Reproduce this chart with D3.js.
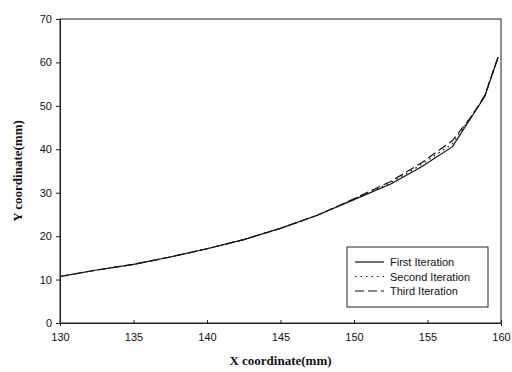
<!DOCTYPE html>
<html>
<head>
<meta charset="utf-8">
<script src="https://cdn.jsdelivr.net/npm/d3@7"></script>
<style>
  body { margin: 0; background: #fff; }
  svg { display: block; }
  .tick text { font-family: "Liberation Sans", Arial, sans-serif; font-size: 11px; fill: #111; }
  .title { font-family: "Liberation Serif", "Times New Roman", serif; font-weight: bold; font-size: 13px; fill: #111; }
  .leg { font-family: "Liberation Sans", Arial, sans-serif; font-size: 11px; fill: #111; }
</style>
</head>
<body>
<svg id="chart"></svg>
<script>
const width = 512, height = 372;
const margin = {top: 19, right: 11, bottom: 49, left: 60};

const xFirst = [130, 132.5, 135, 137.5, 140, 142.5, 145, 147.5, 150, 152.5, 154.6, 156.7, 158.9, 159.8];
const yFirst = [10.7, 12.2, 13.5, 15.2, 17.1, 19.2, 21.8, 24.8, 28.4, 32.0, 36.0, 40.6, 52.2, 61.2];
const xSecond = [130, 132.5, 135, 137.5, 140, 142.5, 145, 147.5, 150, 152.5, 154.6, 156.7, 158.9, 159.8];
const ySecond = [10.7, 12.2, 13.5, 15.2, 17.1, 19.2, 21.8, 24.8, 28.5, 32.3, 36.5, 41.3, 52.2, 61.2];
const xThird = [130, 132.5, 135, 137.5, 140, 142.5, 145, 147.5, 150, 152.5, 154.6, 156.7, 158.0, 158.9, 159.8];
const yThird = [10.7, 12.2, 13.5, 15.2, 17.1, 19.2, 21.8, 24.8, 28.6, 32.6, 36.9, 42.0, 47.6, 52.4, 61.2];
const xTicks = [130, 135, 140, 145, 150, 155, 160];
const yTicks = [0, 10, 20, 30, 40, 50, 60, 70];
const seriesNames = ["First Iteration", "Second Iteration", "Third Iteration"];

const dashes = [null, "1.5,4", "9,4"];
const series = [
  {name: seriesNames[0], pts: d3.zip(xFirst, yFirst)},
  {name: seriesNames[1], pts: d3.zip(xSecond, ySecond)},
  {name: seriesNames[2], pts: d3.zip(xThird, yThird)}
];

const svg = d3.select("#chart").attr("width", width).attr("height", height);

const x = d3.scaleLinear().domain([130, 160]).range([margin.left, width - margin.right]);
const y = d3.scaleLinear().domain([0, 70]).range([height - margin.bottom, margin.top]);

// frame
svg.append("rect")
  .attr("x", x(130)).attr("y", y(70))
  .attr("width", x(160) - x(130)).attr("height", y(0) - y(70))
  .attr("fill", "none").attr("stroke", "#222").attr("stroke-width", 1);

svg.append("g")
  .attr("transform", `translate(0,${y(0)})`)
  .call(d3.axisBottom(x).tickValues(xTicks).tickSize(3).tickPadding(7).tickFormat(d3.format("d")))
  .call(g => g.select(".domain").attr("stroke", "#222"))
  .call(g => g.selectAll(".tick line").attr("stroke", "#222").attr("y2", -3));

svg.append("g")
  .attr("transform", `translate(${x(130)},0)`)
  .call(d3.axisLeft(y).tickValues(yTicks).tickSize(4).tickPadding(4))
  .call(g => g.select(".domain").attr("stroke", "#222"))
  .call(g => g.selectAll(".tick line").attr("stroke", "#222"));

svg.selectAll(".tick text").attr("font-family", null).attr("font-size", null);

const line = d3.line().x(d => x(d[0])).y(d => y(d[1]));

svg.selectAll(".series")
  .data(series)
  .enter().append("path")
  .attr("class", "series")
  .attr("d", d => line(d.pts))
  .attr("fill", "none")
  .attr("stroke", "#111")
  .attr("stroke-width", 1.2)
  .attr("stroke-dasharray", (d, i) => dashes[i]);

// axis titles
svg.append("text").attr("class", "title")
  .attr("x", (x(130) + x(160)) / 2).attr("y", 365)
  .attr("text-anchor", "middle")
  .text("X coordinate(mm)");

svg.append("text").attr("class", "title")
  .attr("transform", `translate(22,${(y(0) + y(70)) / 2}) rotate(-90)`)
  .attr("text-anchor", "middle")
  .text("Y coordinate(mm)");

// legend
const lg = svg.append("g").attr("transform", "translate(347,247)");
lg.append("rect").attr("width", 141).attr("height", 60)
  .attr("fill", "#fff").attr("stroke", "#222");

const item = lg.selectAll(".item")
  .data(seriesNames)
  .enter().append("g")
  .attr("transform", (d, i) => `translate(0,${15 + i * 14.5})`);

item.append("line")
  .attr("x1", 8).attr("x2", 37)
  .attr("stroke", "#111").attr("stroke-width", 1.2)
  .attr("stroke-dasharray", (d, i) => dashes[i]);

item.append("text").attr("class", "leg")
  .attr("x", 43).attr("y", 4)
  .text(d => d);
</script>
</body>
</html>
